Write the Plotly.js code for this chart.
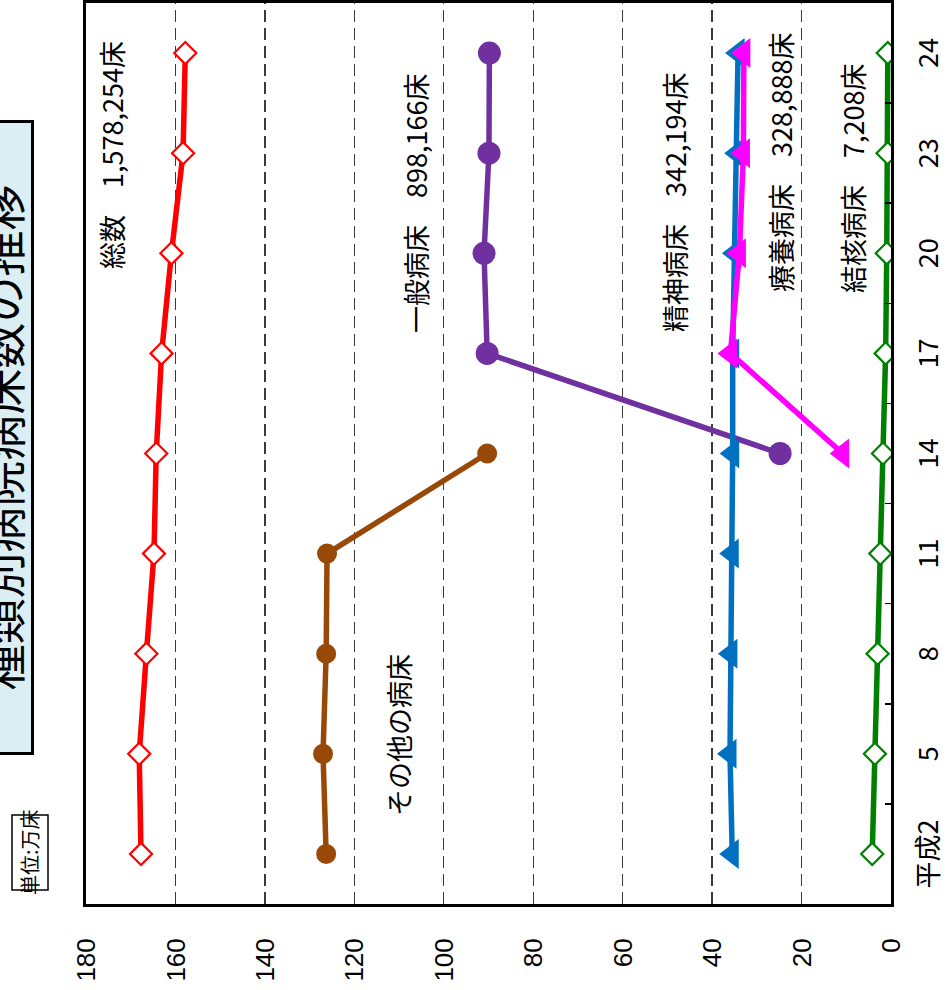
<!DOCTYPE html>
<html>
<head>
<meta charset="utf-8">
<script src="https://cdn.plot.ly/plotly-3.0.1.min.js"></script>
<style>
html, body { margin:0; padding:0; overflow:hidden; background:#fff; width:947px; height:990px; }
#chart { position:absolute; left:0; top:0; width:990px; height:947px;
  transform-origin:0 0; transform: translateY(990px) rotate(-90deg); }
</style>
</head>
<body>
<div id="chart"></div>
<script>
// 年次（平成）
const categories = ['平成2','5','8','11','14','17','20','23','24'];
// 単位: 万床
const totalBeds        = [167.7, 168.1, 166.5, 164.8, 164.3, 163.1, 160.9, 158.3, 157.8];
const otherBeds        = [126.3, 127.0, 126.3, 126.1, 90.3, null, null, null, null];
const generalBeds      = [null, null, null, null, 24.8, 90.3, 91.0, 89.9, 89.8];
const psychiatricBeds  = [35.5, 36.0, 35.8, 35.5, 35.4, 35.4, 34.9, 34.4, 34.2];
const longTermBeds     = [null, null, null, null, 10.8, 35.9, 33.9, 33.0, 32.9];
const tuberculosisBeds = [4.2, 3.6, 3.0, 2.4, 1.8, 1.2, 0.95, 0.77, 0.72];

const titleText = '種類別病院病床数の推移';
const unitText = '単位:万床';
const seriesLabels = {
  total: '総数　1,578,254床',
  general: '一般病床　898,166床',
  psychiatric: '精神病床　342,194床',
  longTerm: '療養病床　328,888床',
  tuberculosis: '結核病床　7,208床',
  other: 'その他の病床'
};

const jp = '"Noto Sans CJK JP", "Noto Sans", sans-serif';
const num = '"Liberation Sans", Arial, "Noto Sans CJK JP", sans-serif';

function line(y, color, symbol, size, open) {
  return {
    x: categories, y: y, type: 'scatter', mode: 'lines+markers',
    connectgaps: false, hoverinfo: 'skip',
    line: {color: color, width: 5.5},
    marker: open
      ? {symbol: symbol, size: size, color: 'white', line: {color: color, width: 2.2}}
      : {symbol: symbol, size: size, color: color, line: {width: 0}}
  };
}

const data = [
  line(totalBeds, '#FF0000', 'diamond', 17, true),
  line(otherBeds, '#984807', 'circle', 20, false),
  line(generalBeds, '#7030A0', 'circle', 23, false),
  line(psychiatricBeds, '#0070C0', 'triangle-up', 26, false),
  line(longTermBeds, '#FF00FF', 'triangle-up', 26, false),
  line(tuberculosisBeds, '#008000', 'diamond', 17, true)
];

function label(text, x, y, size) {
  return {text: text, x: x, y: y, xref: 'x', yref: 'y', showarrow: false,
    xanchor: 'center', yanchor: 'middle', font: {family: jp, size: size || 27, color: '#000'}};
}

// plot area: 901 x 805 px, margins l=86, t=86
const px = u => (u - 86) / 901;
const py = v => 1 + (86 - v) / 805;

const layout = {
  width: 990, height: 947,
  margin: {l: 86, r: 3, t: 86, b: 56},
  paper_bgcolor: '#fff', plot_bgcolor: '#fff',
  showlegend: false,
  xaxis: {
    type: 'category', range: [-0.5, 8.5],
    showline: true, mirror: true, linecolor: '#000', linewidth: 3,
    ticks: 'inside', tickson: 'boundaries', ticklen: 6, tickwidth: 1.5, tickcolor: '#000',
    showgrid: false, zeroline: false,
    tickfont: {family: jp, size: 27, color: '#000'},
    ticklabelstandoff: 12
  },
  yaxis: {
    range: [0, 180], dtick: 20, tick0: 0,
    showline: true, mirror: true, linecolor: '#000', linewidth: 3,
    showgrid: true, gridcolor: '#3a3a3a', gridwidth: 1.3, griddash: '12px,6px',
    ticks: '', zeroline: false,
    tickfont: {family: num, size: 26, color: '#000'},
    ticklabelstandoff: 26
  },
  shapes: [
    {type: 'rect', xref: 'paper', yref: 'paper', x0: px(100), x1: px(175), y0: py(48), y1: py(12),
     fillcolor: '#fff', line: {color: '#000', width: 1.5}, layer: 'above'}
  ],
  annotations: [
    {text: titleText, xref: 'paper', yref: 'paper', x: px(552.5), y: py(0),
     xanchor: 'center', yanchor: 'middle', showarrow: false,
     font: {family: jp, size: 46, color: '#000'},
     bgcolor: '#DAEEF3', bordercolor: '#000', borderwidth: 3, borderpad: 0,
     width: 629, height: 62},
    {text: unitText, xref: 'paper', yref: 'paper', x: px(137.5), y: py(30),
     xanchor: 'center', yanchor: 'middle', showarrow: false,
     font: {family: jp, size: 20, color: '#000'}}
  ].concat([
    label(seriesLabels.total, 6.98, 174.2),
    label(seriesLabels.general, 6.5, 106.4),
    label(seriesLabels.psychiatric, 6.51, 48.3),
    label(seriesLabels.longTerm, 6.91, 24.8),
    label(seriesLabels.tuberculosis, 6.75, 8.7),
    label(seriesLabels.other, 1.19, 110.2)
  ])
};

Plotly.newPlot('chart', data, layout, {staticPlot: true, displayModeBar: false});
</script>
</body>
</html>
